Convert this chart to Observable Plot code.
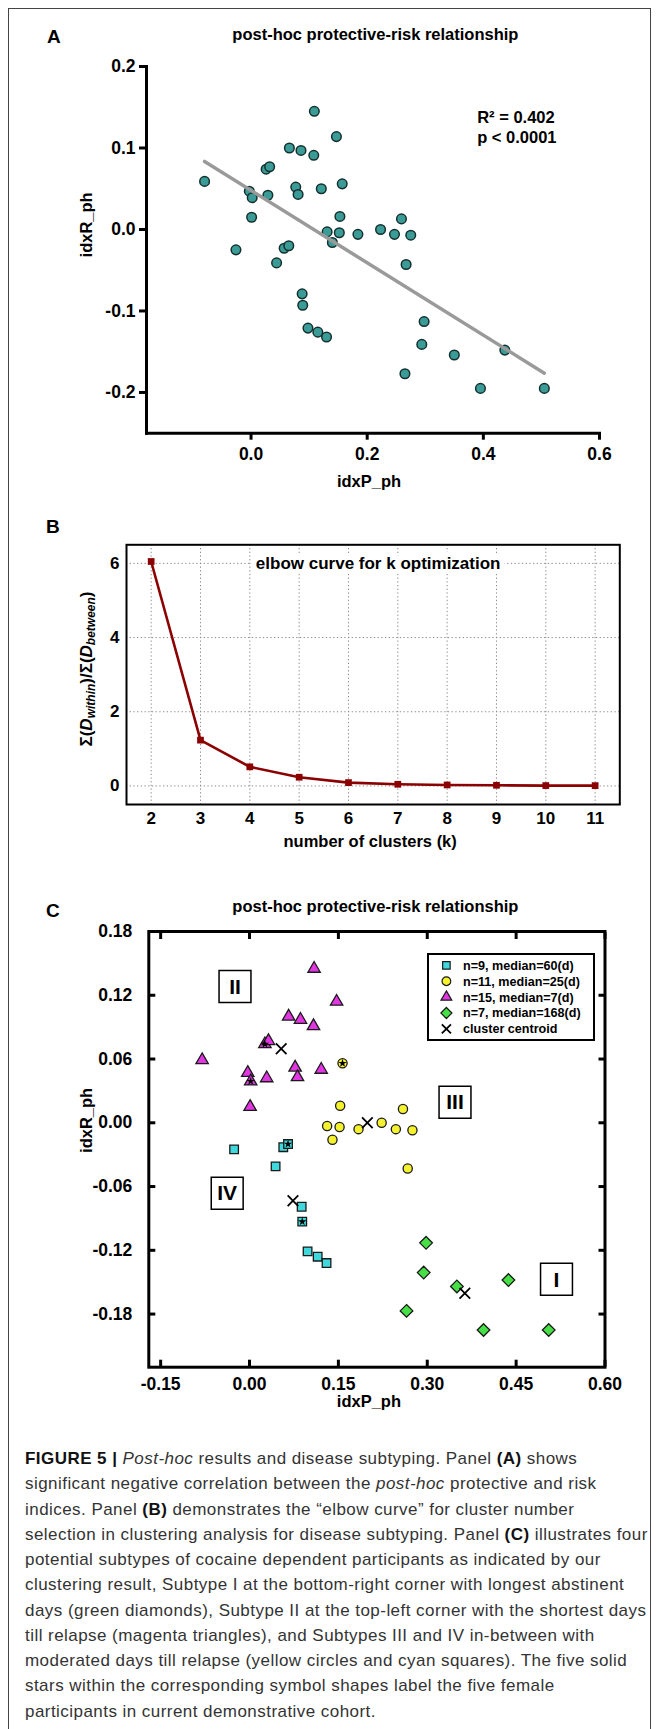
<!DOCTYPE html>
<html>
<head>
<meta charset="utf-8">
<script src="https://cdn.jsdelivr.net/npm/d3@7"></script>
<script src="https://cdn.jsdelivr.net/npm/@observablehq/plot@0.6"></script>
<style>
  html, body { margin: 0; padding: 0; background: #fff; }
  #page { position: relative; width: 657px; height: 1729px; overflow: hidden;
          font-family: "Liberation Sans", Arial, Helvetica, sans-serif; color: #000; }
  .frameBorder { position: absolute; left: 8px; top: 8px; width: 641px; height: 1800px;
                 border: 1.5px solid #444; border-bottom: none; }
  .letter { position: absolute; font-weight: bold; font-size: 19px; line-height: 1;
            transform: translate(0, -50%); }
  .title { position: absolute; font-weight: bold; font-size: 16.5px; line-height: 1;
           white-space: nowrap; transform: translate(-50%, -50%); }
  .plotWrap { position: absolute; left: 0; width: 657px; }
  #ylabB { position: absolute; left: 87.3px; top: 669px; font-weight: bold; font-size: 17px;
           white-space: nowrap; line-height: 1; transform: translate(-50%, -50%) rotate(-90deg); }
  #ylabB sub { font-size: 12px; vertical-align: -3px; }
  #legendC { position: absolute; left: 427px; top: 952.5px; width: 164px; height: 84px;
             border: 2px solid #000; background: #fff; }
  #caption { position: absolute; left: 25px; top: 1446px; font-size: 17px; letter-spacing: 0.45px;
             line-height: 25.25px; color: #333; white-space: nowrap; }
  #caption b { color: #111; }
</style>
</head>
<body>
<div id="page">
  <div class="frameBorder"></div>

  <div class="letter" style="left:47px; top:36px;">A</div>
  <div class="title" style="left:375.4px; top:34px;">post-hoc protective-risk relationship</div>
  <div class="plotWrap" id="plotA" style="top:50px;"></div>

  <div class="letter" style="left:46px; top:526px;">B</div>
  <div class="plotWrap" id="plotB" style="top:520px;"></div>
  <div id="ylabB">Σ(<i>D</i><sub><i>within</i></sub>)/Σ(<i>D</i><sub><i>between</i></sub>)</div>

  <div class="letter" style="left:46px; top:910px;">C</div>
  <div class="title" style="left:375.4px; top:905.5px;">post-hoc protective-risk relationship</div>
  <div class="plotWrap" id="plotC" style="top:920px;"></div>
  <div id="legendC"></div>

  <div id="caption">
    <div><b>FIGURE 5 |</b> <i>Post-hoc</i> results and disease subtyping. Panel <b>(A)</b> shows</div>
    <div>significant negative correlation between the <i>post-hoc</i> protective and risk</div>
    <div>indices. Panel <b>(B)</b> demonstrates the “elbow curve” for cluster number</div>
    <div>selection in clustering analysis for disease subtyping. Panel <b>(C)</b> illustrates four</div>
    <div>potential subtypes of cocaine dependent participants as indicated by our</div>
    <div>clustering result, Subtype I at the bottom-right corner with longest abstinent</div>
    <div>days (green diamonds), Subtype II at the top-left corner with the shortest days</div>
    <div>till relapse (magenta triangles), and Subtypes III and IV in-between with</div>
    <div>moderated days till relapse (yellow circles and cyan squares). The five solid</div>
    <div>stars within the corresponding symbol shapes label the five female</div>
    <div>participants in current demonstrative cohort.</div>
  </div>
</div>

<script>
// ---------------- DATA ----------------
// Participants: post-hoc protective index (x) and risk index (y)
const idxP_ph = [-0.080, -0.026, -0.003, 0.002, 0.001, 0.026, 0.032, 0.029, 0.044, 0.057,
                  0.065, 0.066, 0.086, 0.077, 0.081, 0.109, 0.108, 0.121, 0.088, 0.089,
                  0.098, 0.115, 0.130, 0.131, 0.140, 0.147, 0.153, 0.152, 0.157, 0.184,
                  0.223, 0.259, 0.247, 0.275, 0.267, 0.298, 0.294, 0.350, 0.265, 0.437,
                  0.395, 0.505];
const idxR_ph = [0.059, -0.025, 0.047, 0.039, 0.015, 0.074, 0.077, 0.042, -0.041, -0.023,
                 -0.020, 0.100, 0.097, 0.052, 0.043, 0.145, 0.091, 0.050, -0.079, -0.093,
                 -0.121, -0.126, -0.132, -0.003, -0.016, 0.114, 0.016, -0.004, 0.056, -0.006,
                  0.000, 0.013, -0.006, -0.007, -0.043, -0.113, -0.141, -0.154, -0.177, -0.148,
                 -0.195, -0.195];
const subtype = ["II","IV","II","II","II","II","II","II","IV","IV",
                 "IV","II","II","II","II","II","II","II","IV","IV",
                 "IV","IV","IV","III","III","II","III","III","III","III",
                 "III","III","III","III","III","I","I","I","I","I",
                 "I","I"];
const female = [0,0,0,1,0,1,0,0,0,0,
                1,0,0,0,0,0,0,0,0,1,
                0,0,0,0,0,0,0,0,1,0,
                0,0,0,0,0,0,0,0,0,0,
                0,0];

// Elbow curve
const kClusters = [2, 3, 4, 5, 6, 7, 8, 9, 10, 11];
const elbowRatio = [6.05, 1.235, 0.515, 0.235, 0.09, 0.045, 0.027, 0.018, 0.01, 0.009];

// Tick values / labels
const ticksA_x = [0, 0.2, 0.4, 0.6];
const ticksA_y = [-0.2, -0.1, 0, 0.1, 0.2];
const ticksB_y = [0, 2, 4, 6];
const ticksC_x = [-0.15, 0, 0.15, 0.30, 0.45, 0.60];
const ticksC_y = [-0.18, -0.12, -0.06, 0, 0.06, 0.12, 0.18];
const statsLines = ["R² = 0.402", "p < 0.0001"];
const subtypeOrder = ["IV", "III", "II", "I"];
const legendLabels = ["n=9, median=60(d)", "n=11, median=25(d)", "n=15, median=7(d)", "n=7, median=168(d)", "cluster centroid"];

// ---------------- BUILD TABLES ----------------
const points = idxP_ph.map((x, i) => ({x, y: idxR_ph[i], subtype: subtype[i], female: female[i] === 1}));
const elbow = kClusters.map((k, i) => ({k, v: elbowRatio[i]}));

const FONT = '"Liberation Sans", Arial, Helvetica, sans-serif';
const baseStyle = {fontFamily: FONT, background: "transparent", color: "black", overflow: "visible"};
const bold = {fontWeight: "bold", fill: "black"};
const centered = {textAnchor: "middle", lineAnchor: "middle"};

// ---------------- PANEL A ----------------
const plotA = Plot.plot({
  width: 657, height: 460,
  marginLeft: 146, marginRight: 58, marginTop: 16, marginBottom: 77.3,
  style: baseStyle,
  x: {domain: [-0.18, 0.6]},
  y: {domain: [-0.25, 0.2]},
  marks: [
    Plot.axisY({ticks: ticksA_y, tickSize: 7, tickPadding: 4, strokeWidth: 3,
                tickFormat: d => d.toFixed(1), fontSize: 17.5, ...bold, label: null}),
    Plot.axisX({ticks: ticksA_x, tickSize: 7, tickPadding: 7, strokeWidth: 3,
                tickFormat: d => d.toFixed(1), fontSize: 17.5, ...bold, label: null}),
    Plot.frame({anchor: "left", strokeWidth: 3, strokeLinecap: "square"}),
    Plot.frame({anchor: "bottom", strokeWidth: 3, strokeLinecap: "square"}),
    Plot.dot(points, {x: "x", y: "y", r: 4.8, fill: "#3b9c97", stroke: "#14302e", strokeWidth: 1.5}),
    Plot.linearRegressionY(points, {x: "x", y: "y", stroke: "#9a9a9a", strokeWidth: 3.5, ci: 0}),
    Plot.text([statsLines[0]], {text: d => d, frameAnchor: "top-right", dx: -122.3, dy: 51.3,
                                textAnchor: "start", lineAnchor: "middle", fontSize: 16.5, ...bold}),
    Plot.text([statsLines[1]], {text: d => d, frameAnchor: "top-right", dx: -122.3, dy: 71.3,
                                textAnchor: "start", lineAnchor: "middle", fontSize: 16.5, ...bold}),
    Plot.text(["idxR_ph"], {text: d => d, frameAnchor: "left", dx: -60, dy: -25, rotate: -90,
                            ...centered, fontSize: 16.5, ...bold}),
    Plot.text(["idxP_ph"], {text: d => d, frameAnchor: "bottom", dx: -4, dy: 49,
                            ...centered, fontSize: 16.5, ...bold})
  ]
});
document.getElementById("plotA").appendChild(plotA);

// ---------------- PANEL B ----------------
const plotB = Plot.plot({
  width: 657, height: 340,
  marginLeft: 126, marginRight: 37.7, marginTop: 24.3, marginBottom: 56,
  style: baseStyle,
  x: {domain: [1.5, 11.5]},
  y: {domain: [-0.5, 6.5]},
  marks: [
    Plot.gridX(kClusters, {stroke: "#8a8a8a", strokeOpacity: 1, strokeWidth: 1, strokeDasharray: "1.3,2.4"}),
    Plot.gridY(ticksB_y, {stroke: "#8a8a8a", strokeOpacity: 1, strokeWidth: 1, strokeDasharray: "1.3,2.4"}),
    Plot.text(["elbow curve for k optimization"], {text: d => d, frameAnchor: "top", dx: 5, dy: 18.7,
              ...centered, fontSize: 17, fontWeight: "bold", fill: "black", stroke: "white", strokeWidth: 10,
              paintOrder: "stroke"}),
    Plot.line(elbow, {x: "k", y: "v", stroke: "#8b0000", strokeWidth: 2.6}),
    Plot.dot(elbow, {x: "k", y: "v", symbol: "square", fill: "#8b0000", r: 3.8}),
    Plot.frame({strokeWidth: 2}),
    Plot.axisX({ticks: kClusters, tickSize: 0, tickPadding: 7, tickFormat: d => String(d),
                fontSize: 17, ...bold, label: null}),
    Plot.axisY({ticks: ticksB_y, tickSize: 0, tickPadding: 7, tickFormat: d => String(d),
                fontSize: 17, ...bold, label: null}),
    Plot.text(["number of clusters (k)"], {text: d => d, frameAnchor: "bottom", dx: -3, dy: 37.7,
              ...centered, fontSize: 16.5, ...bold})
  ]
});
document.getElementById("plotB").appendChild(plotB);

// ---------------- PANEL C ----------------
const subtypeStyle = {
  IV:  {symbol: "square",   fill: "#3fd8dc", r: 4.85},
  III: {symbol: "circle",   fill: "#f4f22e", r: 4.6},
  II:  {symbol: "triangle", fill: "#e236e2", r: 4.6},
  I:   {symbol: "diamond2", fill: "#46e046", r: 5.7}
};
const numeralOffset = {I: [407.7, 347.8], II: [86.2, 55], III: [306.2, 170.7], IV: [78.4, 261.7]};
const tickStyle = {tickSize: 7, strokeWidth: 3, fill: "none", label: null};

const plotC = Plot.plot({
  width: 657, height: 500,
  marginLeft: 148.3, marginRight: 52.5, marginTop: 11, marginBottom: 53.3,
  style: baseStyle,
  x: {domain: [-0.17, 0.6]},
  y: {domain: [-0.23, 0.18]},
  marks: [
    // inward ticks on all four sides
    Plot.axisX({ticks: ticksC_x, anchor: "bottom", dy: -7, ...tickStyle}),
    Plot.axisX({ticks: ticksC_x, anchor: "top", dy: 7, ...tickStyle}),
    Plot.axisY({ticks: ticksC_y, anchor: "left", dx: 7, ...tickStyle}),
    Plot.axisY({ticks: ticksC_y, anchor: "right", dx: -7, ...tickStyle}),
    // tick labels
    Plot.axisX({ticks: ticksC_x, anchor: "bottom", tickSize: 0, tickPadding: 10.5,
                tickFormat: d => d.toFixed(2), fontSize: 17.5, ...bold, label: null}),
    Plot.axisY({ticks: ticksC_y, anchor: "left", tickSize: 0, tickPadding: 16.5,
                tickFormat: d => d.toFixed(2), fontSize: 17.5, ...bold, label: null}),
    Plot.frame({strokeWidth: 3}),
    // subtype numerals in boxes
    ...subtypeOrder.flatMap(s => [
      Plot.dot([s], {frameAnchor: "top-left", dx: numeralOffset[s][0], dy: numeralOffset[s][1],
                     symbol: "square", r: 18, fill: "white", stroke: "black", strokeWidth: 1.5}),
      Plot.text([s], {text: d => d, frameAnchor: "top-left", dx: numeralOffset[s][0], dy: numeralOffset[s][1] + 0.5,
                      ...centered, fontSize: 21, fontWeight: "bold", fill: "black"})
    ]),
    // participants by subtype
    ...subtypeOrder.map(s => Plot.dot(points.filter(d => d.subtype === s), {
      x: "x", y: "y", symbol: subtypeStyle[s].symbol, r: subtypeStyle[s].r,
      fill: subtypeStyle[s].fill, stroke: "#1a1a1a", strokeWidth: 1.3
    })),
    // female participants (stars)
    Plot.dot(points.filter(d => d.female), {x: "x", y: "y", symbol: "star", r: 2.6, fill: "black"}),
    // cluster centroids
    Plot.dot(points, Plot.groupZ({x: "mean", y: "mean"},
      {x: "x", y: "y", z: "subtype", symbol: "times", r: 4.9, stroke: "black", strokeWidth: 1.8})),
    Plot.text(["idxR_ph"], {text: d => d, frameAnchor: "left", dx: -61.6, dy: -29, rotate: -90,
                            ...centered, fontSize: 16.5, ...bold}),
    Plot.text(["idxP_ph"], {text: d => d, frameAnchor: "bottom", dx: -8, dy: 35,
                            ...centered, fontSize: 16.5, ...bold})
  ]
});
document.getElementById("plotC").appendChild(plotC);

// ---------------- LEGEND (panel C) ----------------
const legendSymbols = [
  {type: d3.symbolSquare,   size: 56, fill: subtypeStyle.IV.fill},
  {type: d3.symbolCircle,   size: 60, fill: subtypeStyle.III.fill},
  {type: d3.symbolTriangle, size: 50, fill: subtypeStyle.II.fill},
  {type: d3.symbolDiamond2, size: 78, fill: subtypeStyle.I.fill},
  {type: d3.symbolTimes,    size: 56, fill: null}
];
const lsvg = d3.select("#legendC").append("svg").attr("width", 164).attr("height", 84)
  .style("display", "block").style("font-family", FONT);
legendLabels.forEach((label, i) => {
  const cy = 10.3 + i * 15.9;
  const s = legendSymbols[i];
  lsvg.append("path")
    .attr("transform", `translate(17.4,${cy})`)
    .attr("d", d3.symbol(s.type, s.size)())
    .attr("fill", s.fill || "none")
    .attr("stroke", s.fill ? "#1a1a1a" : "black")
    .attr("stroke-width", s.fill ? 1.2 : 1.8);
  lsvg.append("text")
    .attr("x", 34).attr("y", cy).attr("dy", "0.35em")
    .attr("font-size", 12.6).attr("font-weight", "bold")
    .text(label);
});
</script>
</body>
</html>
